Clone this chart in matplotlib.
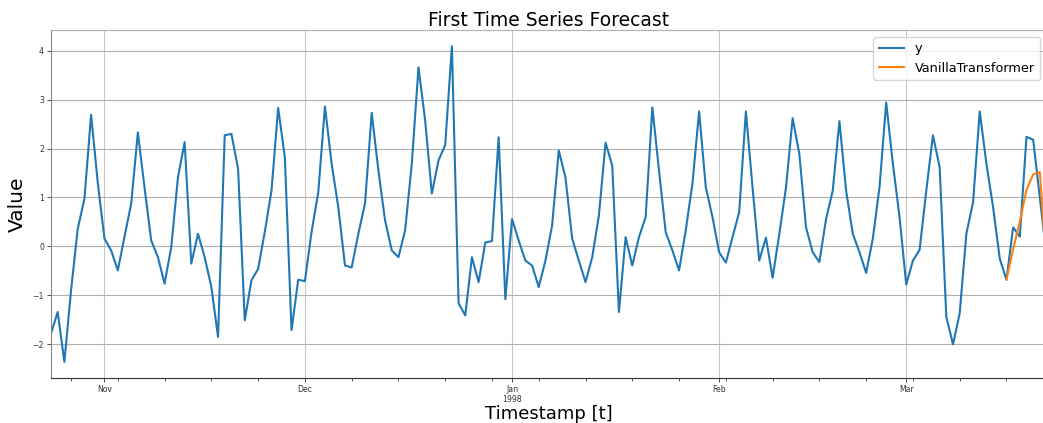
import matplotlib
matplotlib.use("Agg")
import matplotlib.pyplot as plt
import matplotlib.dates as mdates
import numpy as np
import pandas as pd

# daily observations, 1997-10-24 .. 1998-03-22
start_date = "1997-10-24"
y_values = [
    -1.78, -1.34, -2.36, -0.90, 0.36, 0.97, 2.69, 1.30, 0.16, -0.08,
    -0.49, 0.20, 0.87, 2.33, 1.20, 0.12, -0.22, -0.76, -0.01, 1.41,
    2.13, -0.35, 0.26, -0.22, -0.83, -1.85, 2.27, 2.30, 1.59, -1.51,
    -0.69, -0.46, 0.30, 1.14, 2.83, 1.82, -1.71, -0.68, -0.71, 0.30,
    1.10, 2.86, 1.69, 0.80, -0.39, -0.43, 0.26, 0.88, 2.73, 1.55,
    0.53, -0.08, -0.22, 0.33, 1.69, 3.66, 2.57, 1.08, 1.76, 2.07,
    4.09, -1.16, -1.41, -0.22, -0.73, 0.08, 0.11, 2.23, -1.08, 0.56,
    0.12, -0.29, -0.39, -0.83, -0.29, 0.43, 1.96, 1.41, 0.16, -0.29,
    -0.73, -0.22, 0.63, 2.12, 1.65, -1.34, 0.19, -0.39, 0.19, 0.60,
    2.84, 1.55, 0.29, -0.08, -0.49, 0.33, 1.28, 2.76, 1.21, 0.60,
    -0.12, -0.33, 0.19, 0.70, 2.76, 1.20, -0.29, 0.18, -0.64, 0.25,
    1.20, 2.62, 1.89, 0.39, -0.12, -0.32, 0.56, 1.14, 2.56, 1.14,
    0.26, -0.12, -0.54, 0.16, 1.21, 2.94, 1.69, 0.60, -0.78, -0.29,
    -0.07, 1.14, 2.27, 1.62, -1.44, -2.00, -1.37, 0.26, 0.90, 2.76,
    1.69, 0.80, -0.25, -0.68, 0.39, 0.20, 2.24, 2.18, 1.00, -0.20,
]
# forecast covers the last 7 days
forecast_values = [-0.68, -0.05, 0.50, 1.16, 1.47, 1.52, -0.45]

dates = pd.date_range(start_date, periods=len(y_values), freq="D")
forecast_dates = dates[-len(forecast_values):]

fig = plt.figure(figsize=(10.43, 4.23), dpi=100)
ax = fig.add_axes((0.0489, 0.1071, 1.0034 - 0.0489, 0.9279 - 0.1071))

ax.plot(dates, y_values, color="#1f77b4", lw=1.5, label="y")
ax.plot(forecast_dates, forecast_values, color="#ff7f0e", lw=1.5,
        label="VanillaTransformer")
ax.set_xlim(dates[0], dates[-1])


def month_fmt(x, pos=None):
    d = mdates.num2date(x)
    if d.month == 1:
        return d.strftime("%b\n%Y")
    return d.strftime("%b")


ax.xaxis.set_major_locator(mdates.MonthLocator())
ax.xaxis.set_major_formatter(plt.FuncFormatter(month_fmt))
ax.xaxis.set_minor_locator(mdates.WeekdayLocator(byweekday=mdates.MO))
ax.xaxis.set_minor_formatter(plt.NullFormatter())

ax.tick_params(axis="both", which="major", labelsize=5.6, length=3,
               width=0.6, pad=2, colors="#333333")
ax.tick_params(axis="x", which="minor", length=2, width=0.6,
               colors="#333333")
ax.grid(axis="y", color="#b0b0b0", lw=0.8)
ax.grid(axis="x", which="major", color="#b0b0b0", lw=0.8, alpha=0.7)

for side in ["top", "right"]:
    ax.spines[side].set_color("#b0b0b0")
ax.spines["left"].set_color("#888888")
ax.spines["bottom"].set_color("#333333")

ax.set_title("First Time Series Forecast", fontsize=13.5, pad=3)
ax.set_xlabel("Timestamp [t]", fontsize=13, labelpad=1)
ax.set_ylabel("Value", fontsize=14.5, labelpad=4)
ax.legend(loc="upper right", fontsize=9.3)

fig.savefig("out.png", dpi=100)
